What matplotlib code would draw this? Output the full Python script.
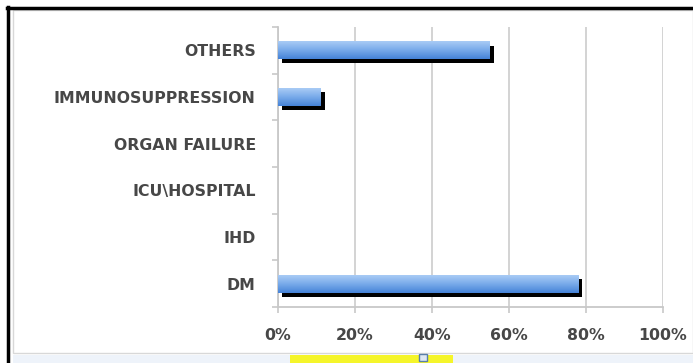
import numpy as np
import matplotlib
matplotlib.use("Agg")
import matplotlib.pyplot as plt
import matplotlib.patheffects as pe
from matplotlib.patches import Rectangle
from matplotlib.lines import Line2D
from matplotlib.colors import LinearSegmentedColormap

categories = ["DM", "IHD", "ICU\\HOSPITAL", "ORGAN FAILURE", "IMMUNOSUPPRESSION", "OTHERS"]
values = [78, 0, 0, 0, 11, 55]
x_ticks = [0, 20, 40, 60, 80, 100]
x_tick_labels = ["0%", "20%", "40%", "60%", "80%", "100%"]

W, H = 693, 363
fig = plt.figure(figsize=(W / 100, H / 100), dpi=100)
fig.patch.set_facecolor("white")

ax = fig.add_axes([278 / W, 1 - 307 / H, 385 / W, 280 / H])
ax.set_facecolor("white")

y = np.arange(len(categories))
bar_h = 0.38
bars = ax.barh(y, values, height=bar_h, color="#6fa3e6", zorder=3,
               path_effects=[pe.SimplePatchShadow(offset=(3, -3), shadow_rgbFace="black", alpha=1.0),
                             pe.Normal()])

# vertical gradient inside each bar, clipped to the bar shape
grad_cmap = LinearSegmentedColormap.from_list("bar", ["#4583d8", "#78aaea", "#a9cbf5"])
grad = np.linspace(0, 1, 64).reshape(-1, 1)
for b, v in zip(bars, values):
    if v <= 0:
        continue
    x0, y0 = b.get_x(), b.get_y()
    im = ax.imshow(grad, cmap=grad_cmap, aspect="auto", origin="lower",
                   extent=[x0, x0 + b.get_width(), y0, y0 + b.get_height()], zorder=4)
    im.set_clip_path(b)

ax.set_xlim(0, 100)
ax.set_ylim(-0.5, len(categories) - 0.5)
ax.set_xticks(x_ticks)
ax.set_xticklabels(x_tick_labels)
ax.set_yticks(y)
ax.set_yticklabels(categories)
ax.set_yticks(np.arange(-0.5, len(categories), 1), minor=True)

ax.grid(axis="x", color="#d0d0d0", linewidth=1.3, zorder=0)
for side in ["top", "right"]:
    ax.spines[side].set_visible(False)
for side in ["left", "bottom"]:
    ax.spines[side].set_color("#c8c8c8")
    ax.spines[side].set_linewidth(1.3)

ax.tick_params(axis="y", which="major", length=0, pad=16)
ax.tick_params(axis="y", which="minor", length=4, color="#c8c8c8", width=1.2)
ax.tick_params(axis="x", length=4, color="#c8c8c8", width=1.2, pad=11)
for lbl in ax.get_yticklabels() + ax.get_xticklabels():
    lbl.set_fontfamily("DejaVu Sans")
    lbl.set_fontweight("bold")
    lbl.set_fontsize(11.3)
    lbl.set_color("#474747")

# outer frame: black border on left and top, light inner chart border
fig.add_artist(Line2D([8 / W, 8 / W], [0, 1 - 7 / H], color="black", linewidth=2.5,
                      transform=fig.transFigure))
fig.add_artist(Line2D([7 / W, 1], [1 - 8 / H, 1 - 8 / H], color="black", linewidth=2.5,
                      transform=fig.transFigure))
fig.add_artist(Rectangle((13 / W, 1 - 353 / H), (W - 13) / W, (353 - 10) / H, fill=False,
                         edgecolor="#d8d8d8", linewidth=1.0, transform=fig.transFigure))
fig.add_artist(Rectangle((13 / W, 0), (W - 13) / W, 8 / H, facecolor="#eef3fa",
                         edgecolor="none", transform=fig.transFigure))
fig.add_artist(Rectangle((290 / W, 0), 163 / W, 8 / H, facecolor="#f5f52a",
                         edgecolor="none", transform=fig.transFigure))
fig.add_artist(Rectangle((419 / W, 2 / H), 8 / W, 7 / H, facecolor="#dfe8f3",
                         edgecolor="#5a7fa8", linewidth=1.0, transform=fig.transFigure))

fig.savefig("out.png", dpi=100, facecolor="white")
